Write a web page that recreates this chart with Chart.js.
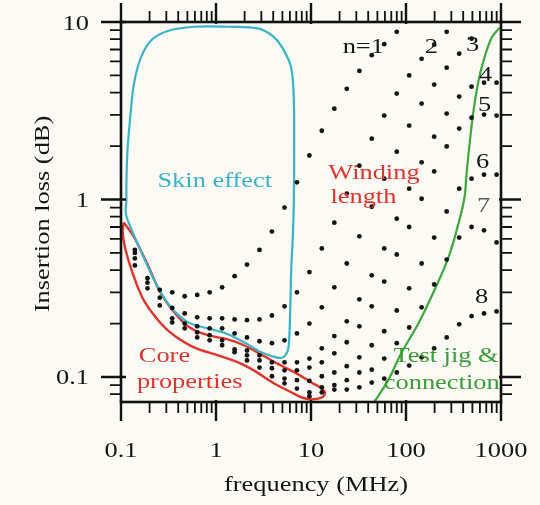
<!DOCTYPE html>
<html>
<head>
<meta charset="utf-8">
<script src="https://cdn.jsdelivr.net/npm/chart.js@4.4.1/dist/chart.umd.min.js"></script>
<style>
  html, body { margin: 0; padding: 0; background: #fbfaf5; }
  #wrap { width: 540px; height: 505px; }
</style>
</head>
<body>
<div id="wrap"><canvas id="c"></canvas></div>
<script>
// Measurement frequencies (MHz), shared by all winding counts
const freqMHz = [0.14, 0.19, 0.256, 0.346, 0.468, 0.634, 0.857, 1.16, 1.57, 2.12,
                 2.87, 3.88, 5.26, 7.11, 9.62, 13.0, 17.6, 23.8, 32.3, 43.6,
                 59.0, 79.9, 108, 146, 198, 268, 363, 490, 663, 898];

// Insertion loss (dB) for n = 1 ... 8 turns (null = not measured / off scale)
const lossN1 = [0.52, 0.36, 0.31, 0.30, 0.285, 0.29, 0.30, 0.32, 0.37, 0.43,
                0.52, 0.66, 0.90, 1.25, 1.77, 2.44, 3.25, 4.2, 5.3, 6.5,
                7.5, 8.8, null, null, null, null, null, null, null, null];
const lossN2 = [0.50, 0.34, 0.28, 0.245, 0.228, 0.217, 0.214, 0.214, 0.211, 0.209,
                0.211, 0.222, 0.25, 0.30, 0.39, 0.53, 0.74, 1.08, 1.55, 2.2,
                2.97, 3.95, 5.0, 6.2, 7.45, 8.8, null, null, null, null];
const lossN3 = [0.466, 0.316, 0.253, 0.214, 0.20, 0.193, 0.188, 0.188, 0.176, 0.167,
                0.159, 0.155, 0.161, 0.176, 0.20, 0.247, 0.32, 0.436, 0.62, 0.91,
                1.31, 1.86, 2.61, 3.47, 4.44, 5.53, 6.63, 8.05, null, null];
const lossN4 = [0.425, null, null, 0.203, 0.188, 0.1785, 0.172, 0.161, 0.143, 0.141,
                0.1325, 0.121, 0.121, 0.121, 0.127, 0.145, 0.17, 0.206, 0.274, 0.374,
                0.53, 0.78, 1.15, 1.62, 2.26, 3.05, 3.8, 4.32, 4.55, 4.55];
const lossN5 = [null, null, null, null, null, 0.167, 0.161, 0.151, 0.138, 0.1325,
                0.124, 0.112, 0.109, 0.109, 0.113, 0.121, 0.136, 0.157, 0.193, 0.25,
                0.345, 0.49, 0.70, 1.01, 1.44, 1.99, 2.51, 2.89, 3.01, 2.97];
const lossN6 = [null, null, null, null, null, null, null, null, null, 0.124,
                0.113, 0.101, 0.098, 0.096, 0.095, 0.101, 0.106, 0.115, 0.129, 0.151,
                0.181, 0.237, 0.316, 0.436, 0.61, 0.856, 1.15, 1.31, 1.38, 1.38];
const lossN7 = [null, null, null, null, null, null, null, null, null, null,
                null, null, 0.092, 0.086, 0.082, 0.0875, 0.090, 0.096, 0.106, 0.11,
                0.127, 0.155, 0.19, 0.247, 0.332, 0.459, 0.61, 0.70, 0.67, 0.573];
const lossN8 = [null, null, null, null, null, null, null, null, null, null,
                null, null, null, null, 0.078, 0.082, 0.085, 0.085, 0.0875, 0.093,
                0.098, 0.106, 0.116, 0.129, 0.145, 0.167, 0.198, 0.22, 0.228, 0.234];

// Outlined regions [frequency MHz, loss dB]
const skinEffectRegion = [[0.114, 0.99], [0.114, 1.23], [0.117, 1.89], [0.125, 2.89], [0.137, 4.5],
  [0.162, 6.3], [0.206, 7.85], [0.31, 8.9], [0.59, 9.4], [1.34, 9.4], [2.77, 9.2], [4.1, 8.2],
  [5.2, 6.9], [6.2, 5.5], [6.6, 3.6], [6.65, 1.9], [6.6, 0.99], [6.45, 0.64], [6.2, 0.41],
  [6.08, 0.27], [5.93, 0.176], [5.7, 0.141], [5.06, 0.129], [4.3, 0.129], [2.98, 0.138],
  [1.97, 0.157], [1.27, 0.176], [0.82, 0.188], [0.51, 0.203], [0.335, 0.247], [0.245, 0.32],
  [0.174, 0.47], [0.118, 0.76], [0.112, 0.85], [0.114, 0.99]];
const coreRegion = [[0.107, 0.742], [0.136, 0.619], [0.19, 0.431], [0.263, 0.296], [0.394, 0.22],
  [0.545, 0.188], [0.817, 0.172], [1.33, 0.163], [1.97, 0.151], [2.98, 0.134], [4.85, 0.116],
  [7.33, 0.1035], [10.0, 0.0934], [12.8, 0.0864], [14.0, 0.081], [12.8, 0.0764], [10.0, 0.0749],
  [7.9, 0.0769], [6.2, 0.082], [4.1, 0.092], [2.5, 0.109], [1.71, 0.121], [1.05, 0.1325],
  [0.586, 0.147], [0.36, 0.172], [0.263, 0.2], [0.174, 0.27], [0.133, 0.383], [0.11, 0.537],
  [0.104, 0.669], [0.107, 0.742]];
const testJigLimit = [[46, 0.072], [65, 0.096], [89, 0.136], [135, 0.2], [199, 0.308], [280, 0.472],
  [357, 0.733], [413, 1.03], [434, 1.4], [467, 2.06], [514, 3.17], [580, 4.67], [655, 6.06],
  [796, 8.16], [967, 9.29]];

// Axis tick labels
const xTickLabels = ['0.1', '1', '10', '100', '1000'];
const yTickLabels = ['10', '1', '0.1'];

// Curve and region annotations, anchored in data coordinates
const curveLabels = ['n=1', '2', '3', '4', '5', '6', '7', '8'];
const curveLabelFreq = [35.5, 185, 502, 688, 671, 640, 655, 624];
const curveLabelLoss = [6.72, 6.72, 6.89, 4.67, 3.17, 1.51, 0.845, 0.26];

const CYAN = '#3ab4c9', RED = '#e2332c', GREEN = '#3ea83b', GREEN_TXT = '#3a9c38';
const notes = [
  { text: 'Skin effect', f: 0.97, l: 1.17, align: 'center', color: CYAN },
  { text: 'Winding', f: 15.2, l: 1.31, align: 'left', color: RED },
  { text: 'length', f: 16.0, l: 0.95, align: 'left', color: RED },
  { text: 'Core', f: 0.154, l: 0.121, align: 'left', color: RED },
  { text: 'properties', f: 0.147, l: 0.0864, align: 'left', color: RED },
  { text: 'Test jig &', f: 944, l: 0.121, align: 'right', color: GREEN_TXT },
  { text: 'connection', f: 967, l: 0.0852, align: 'right', color: GREEN_TXT }
];

const FONT = '"Liberation Serif", "Times New Roman", serif';
const STRETCH = 1.2;

function stretchedText(ctx, text, x, y, align, color, size) {
  ctx.save();
  ctx.translate(x, y);
  ctx.scale(STRETCH, 1);
  ctx.font = size + 'px ' + FONT;
  ctx.textAlign = align;
  ctx.textBaseline = 'alphabetic';
  ctx.fillStyle = color;
  ctx.fillText(text, 0, 0);
  ctx.restore();
}

function dots(loss) {
  return freqMHz.map((f, i) => ({ x: f, y: loss[i] })).filter(p => p.y !== null);
}
function pts(arr) { return arr.map(([x, y]) => ({ x, y })); }

const dotStyle = { showLine: false, pointRadius: 2.4, pointBorderWidth: 0,
                   pointBackgroundColor: '#141414', pointStyle: 'circle' };
const lineStyle = { showLine: true, pointRadius: 0, fill: false, tension: 0.35 };

const paper = {
  id: 'paper',
  beforeDraw(chart) {
    const ctx = chart.ctx;
    ctx.save();
    ctx.fillStyle = '#fbfaf5';
    ctx.fillRect(0, 0, chart.width, chart.height);
    ctx.restore();
  }
};

const frame = {
  id: 'frame',
  afterDatasetsDraw(chart) {
    const ctx = chart.ctx;
    const xs = chart.scales.x, ys = chart.scales.y;
    const a = chart.chartArea;
    ctx.save();
    ctx.strokeStyle = '#111';
    ctx.lineCap = 'butt';

    // tick marks on all four sides, pointing outward
    for (let e = -2; e <= 3; e++) {
      for (let m = 1; m <= 9; m++) {
        const v = m * Math.pow(10, e);
        const major = m === 1;
        if (v >= xs.min * 0.999 && v <= xs.max * 1.001) {
          const px = xs.getPixelForValue(v);
          ctx.lineWidth = major ? 2.4 : 1.8;
          const len = major ? 19 : 11;
          ctx.beginPath();
          ctx.moveTo(px, a.bottom - (major ? 2 : 0)); ctx.lineTo(px, a.bottom + len);
          ctx.moveTo(px, a.top + (major ? 2 : 0)); ctx.lineTo(px, a.top - len);
          ctx.stroke();
        }
        if (v >= ys.min * 0.999 && v <= ys.max * 1.001) {
          const py = ys.getPixelForValue(v);
          ctx.lineWidth = major ? 2.4 : 1.8;
          const len = major ? 20 : 11;
          ctx.beginPath();
          ctx.moveTo(a.left + (major ? 5 : 0), py); ctx.lineTo(a.left - len, py);
          ctx.moveTo(a.right - (major ? 2 : 0), py); ctx.lineTo(a.right + len, py);
          ctx.stroke();
        }
      }
    }
    // axis box
    ctx.lineWidth = 2.6;
    ctx.strokeRect(a.left, a.top, a.right - a.left, a.bottom - a.top);

    // tick labels
    xTickLabels.forEach(t => {
      stretchedText(ctx, t, xs.getPixelForValue(parseFloat(t)), 457, 'center', '#151515', 22);
    });
    yTickLabels.forEach(t => {
      stretchedText(ctx, t, 89, ys.getPixelForValue(parseFloat(t)) + 7.5, 'right', '#151515', 22);
    });

    // axis titles
    stretchedText(ctx, 'frequency (MHz)', 316, 491, 'center', '#151515', 22);
    ctx.save();
    ctx.translate(49, 214);
    ctx.rotate(-Math.PI / 2);
    stretchedText(ctx, 'Insertion loss (dB)', 0, 0, 'center', '#151515', 22);
    ctx.restore();

    // region notes
    notes.forEach(n => {
      stretchedText(ctx, n.text, xs.getPixelForValue(n.f), ys.getPixelForValue(n.l), n.align, n.color, 22);
    });
    // curve labels
    curveLabels.forEach((t, i) => {
      stretchedText(ctx, t, xs.getPixelForValue(curveLabelFreq[i]), ys.getPixelForValue(curveLabelLoss[i]),
        'center', i === 6 ? '#5a5a5a' : '#151515', 22);
    });
    ctx.restore();
  }
};

new Chart(document.getElementById('c'), {
  type: 'scatter',
  data: {
    datasets: [
      { ...dotStyle, data: dots(lossN1) },
      { ...dotStyle, data: dots(lossN2) },
      { ...dotStyle, data: dots(lossN3) },
      { ...dotStyle, data: dots(lossN4) },
      { ...dotStyle, data: dots(lossN5) },
      { ...dotStyle, data: dots(lossN6) },
      { ...dotStyle, data: dots(lossN7) },
      { ...dotStyle, data: dots(lossN8) },
      { ...lineStyle, data: pts(skinEffectRegion), borderColor: CYAN, borderWidth: 2.2 },
      { ...lineStyle, data: pts(coreRegion), borderColor: RED, borderWidth: 2.4 },
      { ...lineStyle, data: pts(testJigLimit), borderColor: GREEN, borderWidth: 2.2 }
    ]
  },
  options: {
    responsive: true,
    maintainAspectRatio: false,
    animation: false,
    events: [],
    layout: { padding: { left: 121, right: 39, top: 22, bottom: 103 } },
    plugins: { legend: { display: false }, tooltip: { enabled: false } },
    scales: {
      x: { type: 'logarithmic', min: 0.1, max: 1000, display: false },
      y: { type: 'logarithmic', min: 0.0723, max: 10, display: false }
    }
  },
  plugins: [paper, frame]
});
</script>
</body>
</html>
